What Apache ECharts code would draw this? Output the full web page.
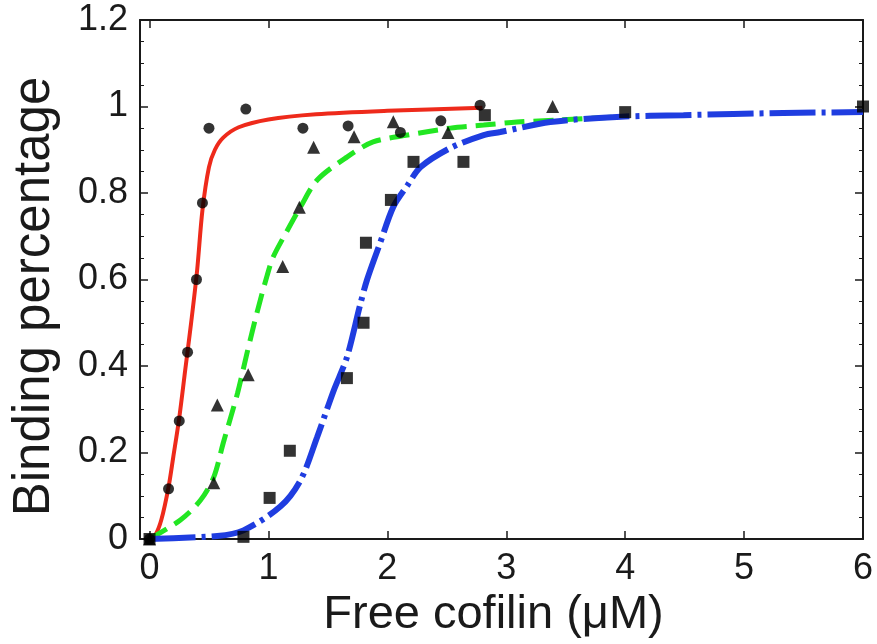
<!DOCTYPE html>
<html>
<head>
<meta charset="utf-8">
<script src="https://cdn.jsdelivr.net/npm/echarts@6/dist/echarts.min.js"></script>
<style>
  html, body { margin: 0; padding: 0; background: #ffffff; }
  #chart { width: 877px; height: 644px; }
</style>
</head>
<body>
<div id="chart"></div>
<script>
// Tick values along the x axis
const xTicks = [0, 1, 2, 3, 4, 5, 6];

// Measured binding data (free cofilin in µM, fraction bound)
const circleData = [[0, 0], [0.16, 0.116], [0.25, 0.273], [0.32, 0.432], [0.395, 0.6], [0.445, 0.777],
  [0.5, 0.95], [0.81, 0.994], [1.29, 0.95], [1.67, 0.955], [2.11, 0.94], [2.45, 0.967], [2.78, 1.003]];
const triangleData = [[0, 0], [0.54, 0.13], [0.57, 0.31], [0.83, 0.38], [1.12, 0.63], [1.26, 0.767],
  [1.38, 0.906], [1.72, 0.93], [2.05, 0.965], [2.51, 0.94], [3.39, 1.0]];
const squareData = [[0, 0], [0.79, 0.005], [1.01, 0.095], [1.18, 0.204], [1.66, 0.372], [1.80, 0.5],
  [1.82, 0.685], [2.03, 0.784], [2.22, 0.872], [2.64, 0.872], [2.82, 0.98], [4.0, 0.987], [6.0, 1.0]];

// Fitted binding curves
const redFit = [[0, 0], [0.05, 0.01], [0.1, 0.045], [0.16, 0.12], [0.2, 0.19], [0.25, 0.28], [0.3, 0.39],
  [0.35, 0.5], [0.4, 0.62], [0.445, 0.76], [0.5, 0.86], [0.55, 0.9], [0.62, 0.928], [0.75, 0.952],
  [1.0, 0.97], [1.4, 0.982], [2.0, 0.99], [2.8, 0.997]];
const greenFit = [[0, 0], [0.26, 0.044], [0.43, 0.09], [0.54, 0.143], [0.62, 0.222], [0.74, 0.337],
  [0.82, 0.43], [0.91, 0.53], [0.99, 0.61], [1.04, 0.652], [1.16, 0.714], [1.27, 0.768], [1.41, 0.83],
  [1.66, 0.883], [1.88, 0.918], [2.17, 0.934], [2.53, 0.95], [2.81, 0.957], [3.09, 0.964],
  [3.45, 0.969], [3.95, 0.976]];
const blueFit = [[0, 0], [0.57, 0.007], [0.79, 0.02], [1.1, 0.075], [1.27, 0.136], [1.41, 0.236],
  [1.55, 0.344], [1.66, 0.42], [1.77, 0.54], [1.83, 0.6], [1.94, 0.685], [2.05, 0.768], [2.17, 0.818],
  [2.28, 0.86], [2.53, 0.904], [2.81, 0.934], [2.95, 0.941], [3.37, 0.964], [3.93, 0.976],
  [4.49, 0.98], [5.33, 0.985], [6.0, 0.987]];

const font = '"Liberation Sans", Arial, sans-serif';
const ink = '#1a1a1a';

const chart = echarts.init(document.getElementById('chart'), null, { renderer: 'canvas' });

const frameLine = { show: true, onZero: false, lineStyle: { color: ink, width: 2 } };

chart.setOption({
  backgroundColor: '#ffffff',
  animation: false,
  grid: { left: 140, right: 14, top: 20, bottom: 105, containLabel: false },
  xAxis: [{
    type: 'value', min: -0.08, max: 6,
    name: 'Free cofilin (\u03bcM)', nameLocation: 'middle', nameGap: 44,
    nameTextStyle: { fontFamily: font, fontSize: 47, color: ink, padding: [0, 16, 0, 0] },
    axisLine: frameLine,
    axisTick: { show: true, inside: true, length: 8, customValues: xTicks, lineStyle: { color: ink, width: 1.5 } },
    axisLabel: { customValues: xTicks, fontFamily: font, fontSize: 36, color: ink, margin: 12 },
    splitLine: { show: false }
  }, {
    type: 'value', min: -0.08, max: 6, position: 'top',
    axisLine: frameLine,
    axisTick: { show: true, inside: true, length: 8, customValues: xTicks, lineStyle: { color: ink, width: 1.5 } },
    axisLabel: { show: false },
    splitLine: { show: false }
  }],
  yAxis: [{
    type: 'value', min: 0, max: 1.2, interval: 0.2,
    name: 'Binding percentage', nameLocation: 'middle', nameGap: 80,
    nameTextStyle: { fontFamily: font, fontSize: 51, color: ink, padding: [0, 34, 0, 0] },
    axisLine: frameLine,
    axisTick: { show: true, inside: true, length: 8, lineStyle: { color: ink, width: 1.5 } },
    minorTick: { show: true, splitNumber: 4, length: 4, lineStyle: { color: ink, width: 1 } },
    axisLabel: { fontFamily: font, fontSize: 36, color: ink, margin: 12, padding: [8, 0, 0, 0] },
    splitLine: { show: false }
  }, {
    type: 'value', min: 0, max: 1.2, interval: 0.2, position: 'right',
    axisLine: frameLine,
    axisTick: { show: true, inside: true, length: 8, lineStyle: { color: ink, width: 1.5 } },
    minorTick: { show: true, splitNumber: 4, length: 4, lineStyle: { color: ink, width: 1 } },
    axisLabel: { show: false },
    splitLine: { show: false }
  }],
  series: [{
    name: 'fit-red', type: 'line', data: redFit, smooth: 0.3, showSymbol: false, z: 2,
    lineStyle: { color: '#ee2a1b', width: 4, type: 'solid' }
  }, {
    name: 'fit-green', type: 'line', data: greenFit, smooth: 0.3, showSymbol: false, z: 2,
    lineStyle: { color: '#22e622', width: 5, type: [20, 9] }
  }, {
    name: 'fit-blue', type: 'line', data: blueFit, smooth: 0.3, showSymbol: false, z: 3,
    lineStyle: { color: '#1f3de0', width: 6, type: [46, 6, 4, 6] }
  }, {
    name: 'circles', type: 'scatter', data: circleData, symbol: 'circle', symbolSize: 11, z: 5,
    itemStyle: { color: '#000000' }
  }, {
    name: 'triangles', type: 'scatter', data: triangleData, symbol: 'triangle', symbolSize: 13, z: 5,
    itemStyle: { color: '#000000' }
  }, {
    name: 'squares', type: 'scatter', data: squareData, symbol: 'rect', symbolSize: 12, z: 5,
    itemStyle: { color: '#000000' }
  }]
});
</script>
</body>
</html>
